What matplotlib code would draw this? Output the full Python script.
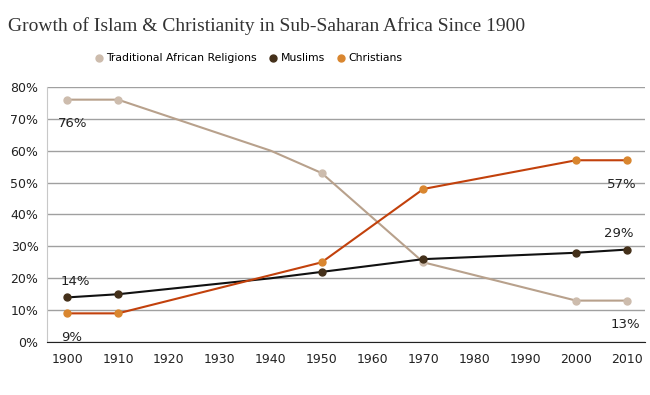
import matplotlib
matplotlib.use("Agg")
import matplotlib.pyplot as plt
from matplotlib.ticker import FuncFormatter

years = [1900, 1910, 1940, 1950, 1970, 2000, 2010]
traditional = [76, 76, 60, 53, 25, 13, 13]
muslims = [14, 15, 20, 22, 26, 28, 29]
christians = [9, 9, 21, 25, 48, 57, 57]
marked = [0, 1, 3, 4, 5, 6]
xticks = list(range(1900, 2011, 10))

fig = plt.figure(figsize=(6.5, 3.95), dpi=100)
ax = fig.add_axes([0.072, 0.134, 0.92, 0.646])

series = [
    ("Traditional African Religions", traditional, "#b8a18c", "#cdbcad"),
    ("Muslims", muslims, "#111111", "#44301a"),
    ("Christians", christians, "#c2410c", "#d9862f"),
]
for name, vals, lc, mc in series:
    ax.plot(years, vals, color=lc, lw=1.5, marker="o", ms=5,
            markerfacecolor=mc, markeredgecolor=mc, markevery=marked,
            label=name, zorder=3)

ax.set_xlim(1896, 2013.5)
ax.set_ylim(0, 80)
ax.set_xticks(xticks)
ax.set_yticks(range(0, 81, 10))
ax.yaxis.set_major_formatter(FuncFormatter(lambda v, p: f"{int(v)}%"))
ax.grid(axis="y", color="#a0a0a0", lw=1)
ax.set_axisbelow(True)
ax.tick_params(length=0, labelsize=9, colors="#222222")
ax.tick_params(axis="x", pad=8)
ax.tick_params(axis="y", pad=6)
for s in ["top", "right"]:
    ax.spines[s].set_visible(False)
ax.spines["left"].set_color("#c8c8c8")
ax.spines["bottom"].set_color("#222222")

# value labels
ax.annotate(f"{traditional[0]}%", (years[0], traditional[0]), xytext=(4, -20),
            textcoords="offset points", fontsize=9.5, ha="center", color="#222")
ax.annotate(f"{muslims[0]}%", (years[0], muslims[0]), xytext=(6, 9),
            textcoords="offset points", fontsize=9.5, ha="center", color="#222")
ax.annotate(f"{christians[0]}%", (years[0], christians[0]), xytext=(3, -20),
            textcoords="offset points", fontsize=9.5, ha="center", color="#222")
ax.annotate(f"{christians[-1]}%", (years[-1], christians[-1]), xytext=(-4, -20),
            textcoords="offset points", fontsize=9.5, ha="center", color="#222")
ax.annotate(f"{muslims[-1]}%", (years[-1], muslims[-1]), xytext=(-6, 9),
            textcoords="offset points", fontsize=9.5, ha="center", color="#222")
ax.annotate(f"{traditional[-1]}%", (years[-1], traditional[-1]), xytext=(-1, -20),
            textcoords="offset points", fontsize=9.5, ha="center", color="#222")

fig.text(0.012, 0.935, "Growth of Islam & Christianity in Sub-Saharan Africa Since 1900",
         fontsize=14, family="Liberation Serif", color="#333333", va="center")
fig.legend(loc="center", bbox_to_anchor=(0.383, 0.852), ncol=3, frameon=False,
           fontsize=7.8, handlelength=0.6, handletextpad=0.4, columnspacing=1.2,
           numpoints=1)
leg = fig.legends[0]
for h in leg.legend_handles:
    h.set_linestyle("None")

fig.savefig("out.png", dpi=100)
